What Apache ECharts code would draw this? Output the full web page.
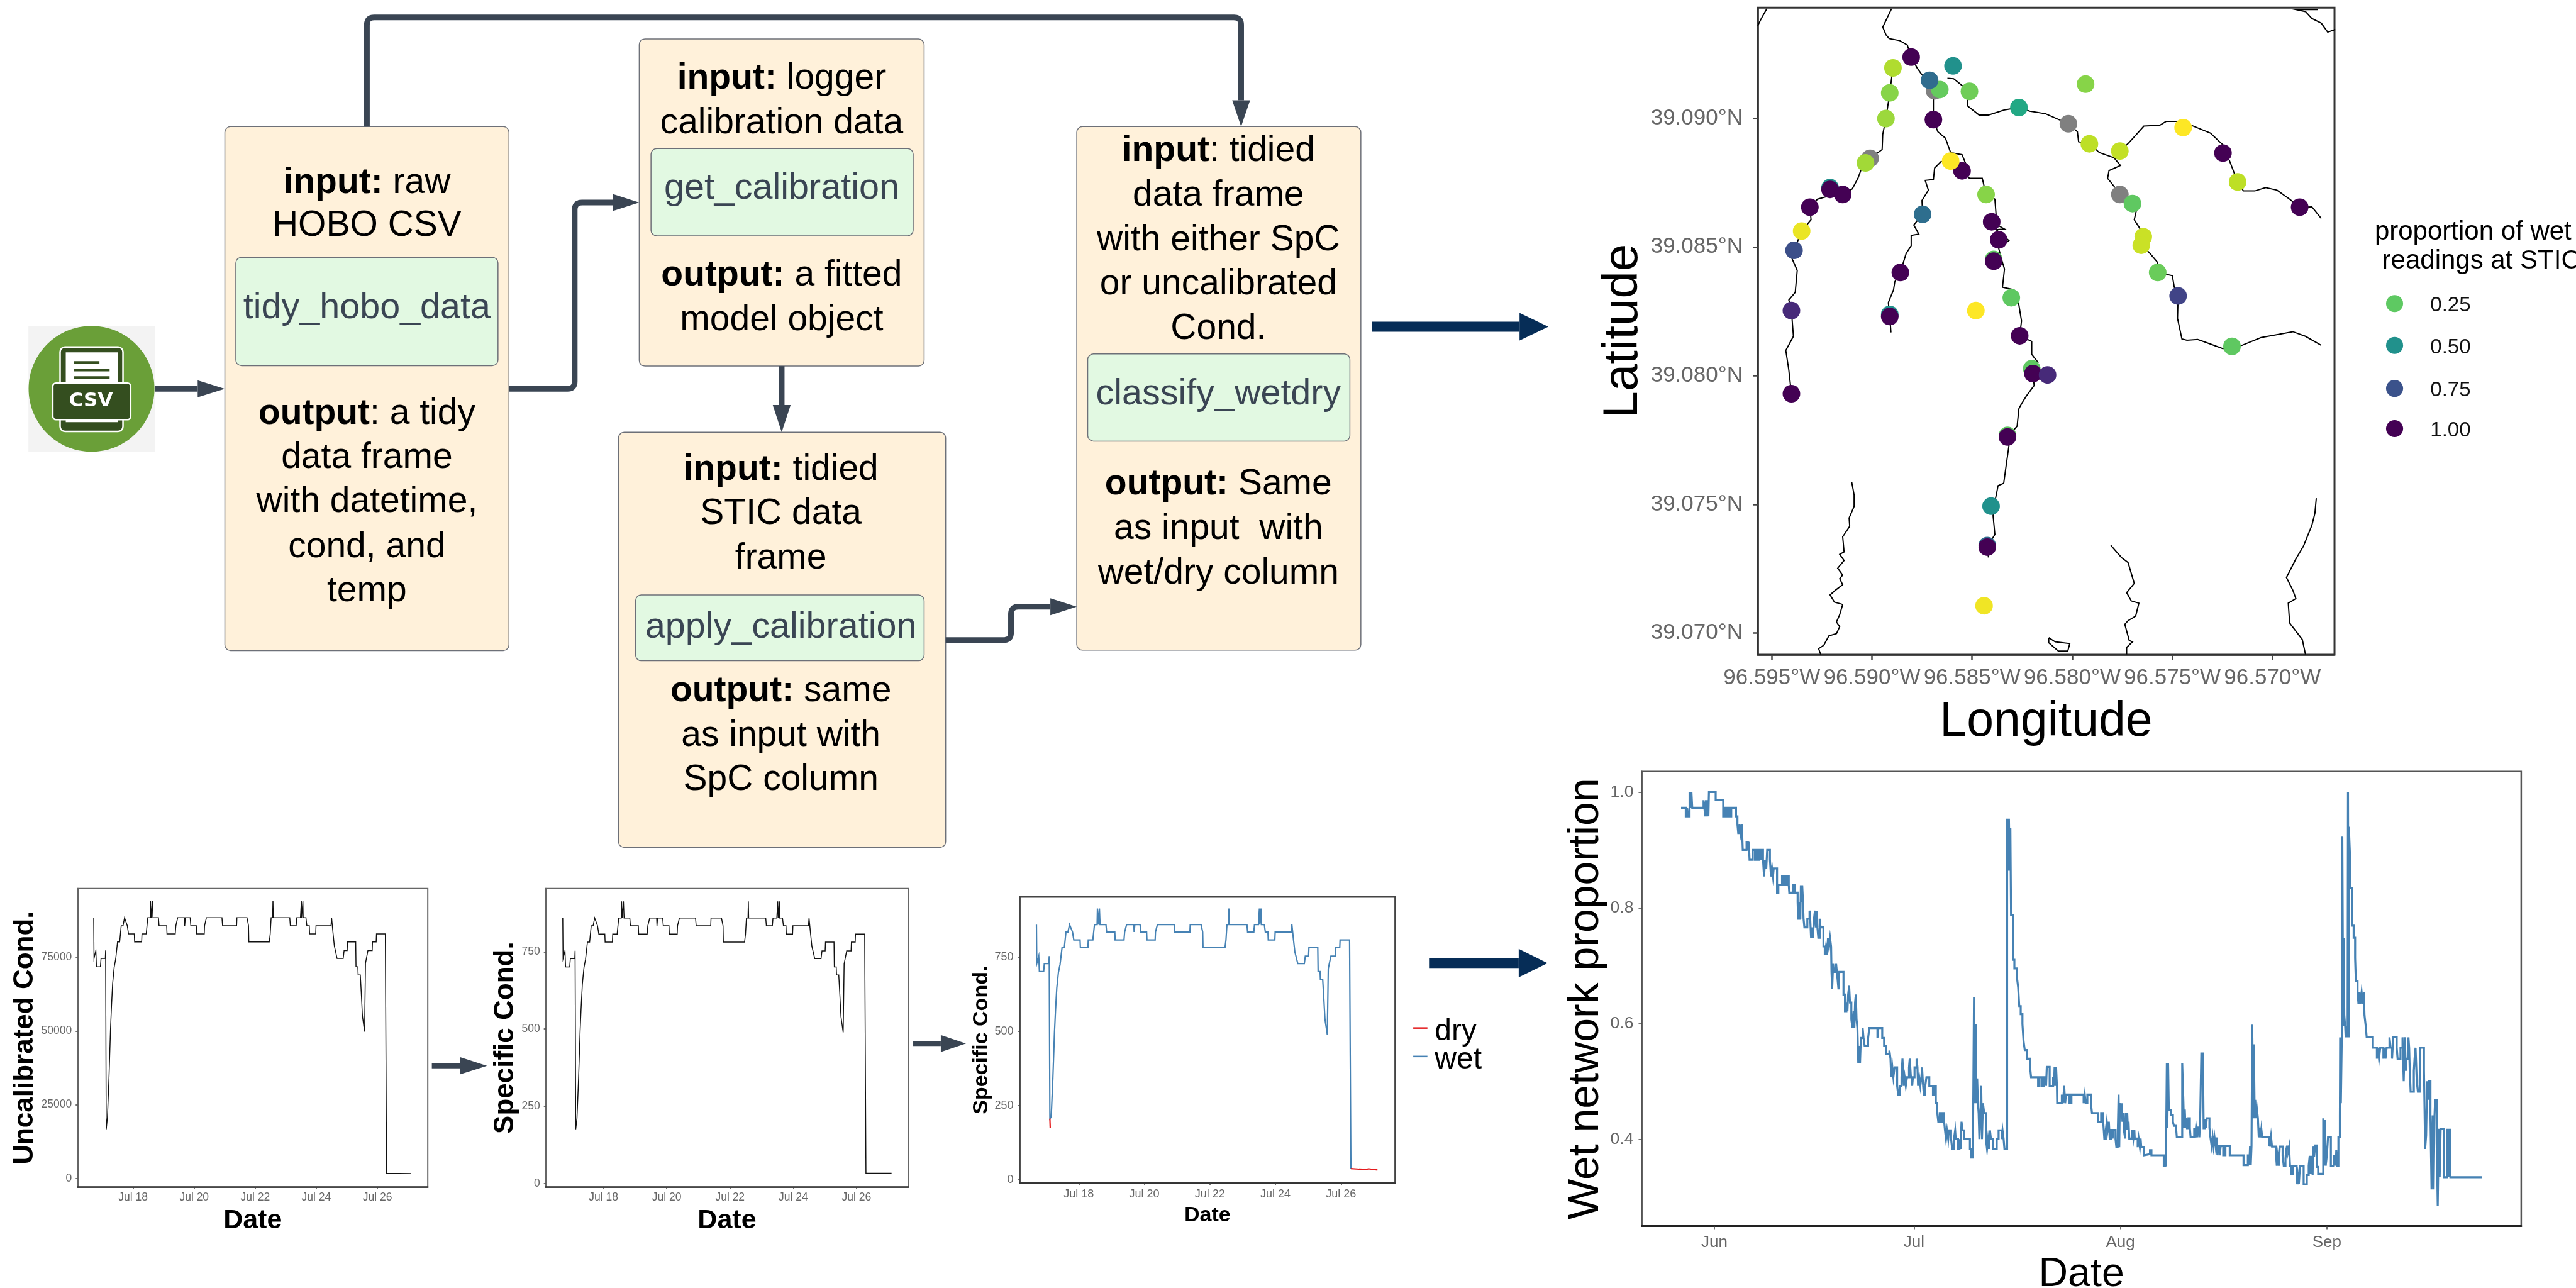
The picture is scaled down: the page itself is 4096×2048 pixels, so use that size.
<!DOCTYPE html>
<html>
<head>
<meta charset="utf-8">
<title>STIC workflow</title>
<script src="https://cdn.jsdelivr.net/npm/echarts@6/dist/echarts.min.js"></script>
<style>html,body{margin:0;padding:0;background:#fff}#c{width:4096px;height:2048px}</style>
</head>
<body>
<div id="c"></div>
<script>
const FONT = '"Liberation Sans", Arial, sans-serif';
const S = 4096 / 6347;

/* ---------- logger series: day of July, conductivity ---------- */
const stepDays = [16.71,16.72,16.75,16.78,16.80,16.93,16.95,17.09,17.10,17.12,
17.16,17.21,17.26,17.29,17.33,17.38,17.43,17.49,17.56,17.61,
17.67,17.72,17.75,17.81,17.85,18.04,18.05,18.28,18.29,18.43,
18.48,18.56,18.57,18.59,18.63,18.65,18.83,18.85,19.10,19.11,
19.38,19.40,19.46,19.68,19.69,19.71,19.87,19.89,20.07,20.08,
20.33,20.34,20.40,20.91,20.93,21.39,21.40,21.73,21.78,21.79,
22.46,22.49,22.52,22.57,22.58,22.59,23.13,23.15,23.34,23.36,
23.48,23.51,23.52,23.56,23.57,23.66,23.69,23.77,23.78,23.98,
23.99,24.48,24.50,24.55,24.59,24.68,24.88,24.91,25.01,25.02,
25.29,25.30,25.36,25.37,25.44,25.47,25.51,25.58,25.61,25.69,
25.83,25.84,25.96,25.97,26.26,26.28,26.30,27.11];
const uncalibratedCond = [88400,74600,74600,77300,71800,71800,74600,74600,77300,16700,
20800,34100,50500,57900,66100,71600,74400,80200,80200,85700,
85700,88400,88400,85700,82900,82900,80200,80200,82900,82900,
88400,88400,94000,88400,94000,88400,88400,85700,85700,82900,
82900,85700,88400,88400,85700,88400,88400,85700,85700,82900,
82900,85700,88400,88400,85700,85700,88400,88400,85700,80200,
80200,82900,88400,88400,94000,88400,88400,85700,85700,88400,
88400,94000,88400,94000,88400,88400,85700,85700,82900,82900,
85700,85700,88400,82900,78900,74600,74600,77300,77300,80200,
80200,71800,71800,69000,69000,63400,55100,49800,73000,77300,
77300,80200,80200,82900,82900,42300,1800,1700];
const specificCond = [859,728,728,753,701,701,728,728,753,175,
211,339,496,567,645,698,725,781,781,834,
834,859,859,834,807,807,781,781,807,807,
859,859,913,859,913,859,859,834,834,807,
807,834,859,859,834,859,859,834,834,807,
807,834,859,859,834,834,859,859,834,781,
781,807,859,859,913,859,859,834,834,859,
859,913,859,913,859,859,834,834,807,807,
834,834,859,807,768,728,728,753,753,781,
781,701,701,675,675,619,540,489,711,753,
753,781,781,807,807,417,33,33];
const wetCond = [859,728,728,753,701,701,728,728,753,206,
211,339,496,567,645,698,725,781,781,834,
834,859,859,834,807,807,781,781,807,807,
859,859,913,859,913,859,859,834,834,807,
807,834,859,859,834,859,859,834,834,807,
807,834,859,859,834,834,859,859,834,781,
781,807,859,859,913,859,859,834,834,859,
859,913,859,913,859,859,834,834,807,807,
834,834,859,807,768,728,728,753,753,781,
781,701,701,675,675,619,540,489,711,753,
753,781,781,807,807,417,38];
const dryLow = [[17.12,206],[17.13,175]];
const dryEnd = [[26.30,38],[26.55,36],[26.75,35],[26.85,37],[27.11,33]];
const julyTicks = [18,20,22,24,26];
const condTicks = [0,25000,50000,75000];
const spcTicks = [0,250,500,750];

/* ---------- wet network proportion: days since 1 June, share ---------- */
const wetProportion = [[-5.00,.973],[-4.29,.958],[-4.09,.973],[-3.92,.958],[-3.72,1],[-3.56,.973],[-3.44,1],[-3.32,.973],[-1.62,.986],[-1.50,.973],[-1.36,.958],[-1.26,.986],[-1.11,.958],[-.99,.986],[-.89,.958],[-.81,1],[.20,.986],[1.33,.958],[1.58,.973],[1.81,.958],[2.05,.973],[2.31,.958],[2.54,.973],[3.26,.958],[3.47,.944],[3.59,.929],[3.79,.944],[3.95,.929],[4.13,.944],[4.27,.900],[4.84,.914],[5.04,.900],[5.18,.914],[5.29,.883],[5.75,.900],[6.09,.883],[6.36,.900],[6.56,.883],[6.76,.900],[6.96,.883],[7.07,.900],[7.31,.883],[7.47,.854],[7.63,.883],[7.80,.868],[7.94,.900],[8.35,.883],[8.51,.854],[8.67,.868],[8.81,.854],[8.92,.868],[9.42,.826],[9.62,.839],[10.17,.854],[10.37,.839],[10.57,.854],[10.78,.839],[10.98,.854],[11.18,.839],[11.26,.826],[11.85,.839],[12.05,.826],[12.51,.810],[12.59,.781],[12.80,.810],[12.92,.781],[13.00,.839],[13.12,.810],[13.20,.839],[13.32,.810],[13.40,.781],[13.53,.766],[13.97,.781],[14.30,.795],[14.40,.781],[14.53,.748],[14.71,.766],[14.81,.748],[14.97,.781],[15.11,.795],[15.25,.766],[15.35,.795],[15.48,.766],[15.62,.748],[15.82,.781],[15.96,.766],[16.39,.733],[16.59,.718],[16.77,.733],[16.95,.718],[17.07,.748],[17.23,.733],[17.38,.748],[17.54,.733],[17.60,.689],[17.70,.659],[17.84,.703],[17.96,.689],[18.29,.703],[18.41,.689],[18.53,.674],[18.65,.659],[18.77,.689],
[19.40,.650],[19.62,.621],[19.84,.636],[19.99,.621],[20.10,.650],[20.25,.665],[20.38,.636],[20.58,.607],[20.75,.592],[20.92,.621],[21.03,.592],[21.14,.636],[21.25,.650],[21.36,.607],[21.49,.592],[21.62,.531],[21.75,.561],[21.88,.531],[22.01,.575],[22.28,.592],[22.41,.575],[22.58,.561],[23.10,.575],[23.28,.592],[24.50,.575],[24.63,.592],[25.22,.575],[25.50,.561],[25.80,.547],[26.30,.553],[26.46,.539],[26.57,.507],[26.74,.524],[26.89,.507],[27.07,.524],[27.46,.492],[27.61,.477],[27.83,.492],[28.11,.507],[28.26,.539],[28.44,.492],[28.59,.507],[28.76,.492],[28.94,.507],[29.24,.524],[29.35,.539],[29.53,.507],[29.72,.492],[29.83,.507],[30.07,.524],[30.38,.539],[30.51,.524],[30.60,.492],[30.77,.507],[30.94,.492],[31.10,.507],[31.20,.524],[31.36,.492],[31.47,.477],[31.68,.492],[31.86,.507],[32.29,.492],[32.84,.477],[33.06,.492],[33.27,.462],[33.49,.445],[33.64,.430],[33.86,.445],[34.08,.430],[34.30,.445],[34.52,.430],[34.65,.415],[34.80,.400],[34.95,.415],[35.13,.400],[35.23,.415],[35.56,.400],[35.73,.383],[35.99,.400],[36.17,.415],[36.26,.400],[36.61,.383],[36.82,.400],[36.98,.383],[37.13,.430],[37.30,.415],[37.52,.400],[38.39,.383],[38.61,.368],[38.87,.430],[39.00,.645],[39.18,.462],[39.26,.599],[39.39,.462],[39.48,.505],[39.59,.462],[39.70,.445],[39.81,.400],[39.96,.444],[40.09,.492],[40.20,.400],[40.35,.462],[40.53,.445],[40.79,.400],[40.96,.383],[41.11,.400],[41.27,.383],[41.40,.415],[41.55,.400],[41.88,.383],[42.42,.400],[42.70,.415],[43.18,.400],[43.29,.415],[43.45,.400],[43.58,.383],
[43.98,.954],[44.10,.864],[44.25,.954],[44.37,.864],[44.47,.938],[44.57,.787],[44.87,.710],[45.07,.695],[45.47,.678],[45.64,.662],[45.80,.630],[46.02,.616],[46.28,.599],[46.45,.569],[46.63,.554],[47.00,.539],[47.43,.524],[47.58,.507],[48.63,.492],[48.85,.507],[49.28,.492],[49.50,.507],[49.83,.492],[49.94,.525],[50.37,.492],[50.89,.507],[51.02,.492],[51.11,.525],[51.28,.492],[51.33,.525],[51.46,.492],[51.50,.462],[52.20,.477],[52.37,.462],[52.55,.492],[52.70,.462],[52.81,.477],[53.35,.462],[53.64,.477],[55.47,.462],[55.64,.477],[55.79,.462],[56.03,.477],[56.56,.462],[56.73,.445],[57.64,.430],[58.10,.445],[58.41,.430],[58.58,.401],[58.80,.416],[58.95,.430],[59.08,.416],[59.26,.430],[59.39,.401],[59.60,.416],[59.82,.401],[59.95,.416],[60.26,.400],[60.39,.386],[60.58,.401],[60.72,.477],[60.82,.386],[60.91,.462],[61.09,.445],[61.19,.462],[61.30,.430],[61.46,.445],[61.52,.416],[61.70,.401],[61.80,.445],[61.91,.416],[62.02,.445],[62.13,.416],[62.22,.430],[62.33,.401],[62.78,.416],[62.94,.401],[63.09,.416],[63.15,.401],[63.59,.386],[63.74,.401],[63.92,.386],[64.03,.401],[64.13,.386],[64.53,.372],[64.61,.374],[65.44,.381],[65.66,.372],[67.51,.353],[67.73,.372],[67.84,.353],[67.88,.419],[67.97,.531],[68.05,.419],[68.16,.531],[68.27,.450],[68.60,.442],[68.88,.430],[69.04,.423],[69.36,.419],[69.47,.403],[70.28,.531],[70.45,.468],[70.56,.419],[70.67,.451],[70.78,.419],[70.89,.436],[71.00,.419],[71.21,.436],[71.43,.419],[71.54,.403],[72.08,.419],[72.19,.403],[72.35,.420],[72.52,.403],[72.63,.420],[72.85,.403],[72.98,.436],[73.15,.548],[73.39,.546],[73.50,.419],[73.72,.434],[73.83,.419],[73.98,.436],[74.37,.420],[74.52,.403],[74.70,.388],[74.85,.403],[74.98,.388],[75.13,.403],[75.29,.388],[75.42,.403],[75.57,.372],[75.68,.388],[75.90,.372],[76.07,.388],[76.44,.372],[76.77,.388],[77.42,.372],[79.49,.355],[80.14,.372],[80.36,.355],[80.47,.388],[80.58,.355],[80.69,.388],[80.80,.598],[80.95,.436],[81.04,.564],[81.17,.436],[81.25,.468],[81.38,.436],[81.51,.451],[81.65,.436],[81.78,.403],[81.91,.420],[82.04,.403],[82.17,.417],[82.30,.403],[83.34,.388],
[83.40,.404],[83.46,.387],[83.62,.404],[83.77,.387],[84.38,.371],[84.49,.354],[84.64,.371],[84.81,.354],[84.92,.387],[85.36,.371],[85.53,.354],[85.79,.366],[85.90,.381],[86.01,.387],[86.23,.381],[86.34,.387],[86.47,.354],[86.67,.340],[86.88,.354],[87.47,.322],[87.65,.338],[87.80,.322],[87.97,.354],[88.52,.322],[89.00,.338],[89.28,.354],[89.43,.371],[89.56,.340],[89.72,.371],[89.87,.338],[89.93,.387],[90.09,.369],[90.26,.389],[90.48,.352],[90.70,.340],[91.46,.436],[91.57,.354],[91.72,.433],[91.83,.354],[92.00,.371],[92.18,.403],[92.61,.354],[93.05,.371],[93.35,.354],[93.42,.381],[93.53,.354],[93.74,.404],[93.96,.441],[94.00,.576],[94.11,.462],[94.25,.576],[94.33,.923],[94.46,.596],[94.55,.748],[94.62,.614],[94.75,.596],[94.83,.576],[94.99,.596],[95.12,.576],[95.18,1],[95.27,.576],[95.31,.940],[95.49,.888],[95.55,.834],[95.81,.769],[96.03,.748],[96.25,.713],[96.36,.673],[96.62,.654],[96.75,.634],[96.90,.654],[97.05,.634],[97.23,.654],[97.40,.634],[97.56,.654],[97.66,.614],[97.84,.596],[97.99,.576],[98.93,.558],[99.52,.539],[99.67,.558],[99.84,.539],[100.02,.558],[100.50,.539],[100.67,.558],[100.82,.539],[100.98,.558],[101.41,.576],[101.59,.558],[101.80,.539],[101.98,.576],[102.50,.558],[102.63,.539],[103.07,.558],[103.37,.576],[103.55,.500],[103.72,.576],[103.87,.518],[103.98,.539],[104.26,.576],[104.37,.558],[104.46,.518],[104.59,.482],[105.07,.518],[105.18,.539],[105.33,.558],[105.51,.500],[105.68,.482],[105.94,.500],[106.05,.558],[106.59,.521],[106.77,.383],[106.92,.406],[107.07,.500],[107.20,.468],[107.36,.500],[107.57,.436],[107.73,.313],[107.90,.441],[108.05,.313],[108.18,.441],[108.27,.468],[108.51,.392],[108.66,.285],[108.82,.418],[108.95,.334],[109.10,.418],[109.60,.334],[110.04,.418],[110.19,.334],[110.30,.418],[110.41,.334],[110.52,.418],[110.56,.334],[115.31,.334]];
const monthTicks = [0,30,61,92];
const monthNames = ['Jun','Jul','Aug','Sep'];
const shareTicks = [0.4,0.6,0.8,1.0];

/* ---------- map: lon, lat, proportion of wet readings ---------- */
const stations = [
[-96.58804,39.09238,1],[-96.58595,39.09204,.50],[-96.58895,39.09196,.12],[-96.58661,39.09112,.24],[-96.58712,39.09148,.65],
[-96.58513,39.09105,.22],[-96.57933,39.09133,.18],[-96.58911,39.09099,.18],[-96.5893,39.08999,.15],[-96.58693,39.08995,1],
[-96.58266,39.09042,.40],[-96.57914,39.08901,.10],[-96.57762,39.08873,.09],[-96.57446,39.08964,0],[-96.57247,39.08865,1],
[-96.57174,39.08753,.10],[-96.56864,39.08655,1],[-96.5855,39.08796,1],[-96.58607,39.08834,0],[-96.59032,39.08827,.14],
[-96.59209,39.08731,.50],[-96.59209,39.08724,1],[-96.59146,39.08704,1],[-96.5931,39.08655,1],[-96.59351,39.08562,.03],
[-96.59389,39.08487,.76],[-96.5843,39.08704,.18],[-96.58747,39.08627,.64],[-96.57699,39.08669,.25],[-96.57645,39.0854,.08],
[-96.57655,39.08507,.08],[-96.58402,39.08598,1],[-96.58367,39.08528,1],[-96.58392,39.08452,.25],[-96.58392,39.08445,1],
[-96.58858,39.08401,1],[-96.57573,39.08401,.23],[-96.57471,39.0831,.80],[-96.58304,39.08303,.25],[-96.59402,39.08253,.88],
[-96.58911,39.08238,.50],[-96.58911,39.0823,1],[-96.58481,39.08253,0],[-96.58262,39.08155,1],[-96.57202,39.08114,.25],
[-96.58202,39.08027,.25],[-96.58196,39.08008,1],[-96.58123,39.08003,.88],[-96.59402,39.0793,1],[-96.58323,39.07768,.25],
[-96.58323,39.07762,1],[-96.58405,39.07493,.50],[-96.58424,39.0734,.65],[-96.58424,39.07334,1],[-96.5844,39.07106,.02]];
const noDataStations = [[-96.58687,39.09107],[-96.58019,39.08979],[-96.59009,39.08845],[-96.57762,39.08704]];
const viridisReversed = ['#fde725','#bddf26','#7ad151','#44bf70','#22a884','#21918c','#2a788e','#355f8d','#414487','#482475','#440154'];
const legendProps = [0.25,0.50,0.75,1.00];
const legendColors = ['#5ec962','#21918c','#3b528b','#440154'];
const lonTicks = [-96.595,-96.590,-96.585,-96.580,-96.575,-96.570];
const latTicks = [39.070,39.075,39.080,39.085,39.090];

const streamCentral = [[-96.58902,39.09426],[-96.58924,39.0939],[-96.58946,39.09355],[-96.5893,39.09325],[-96.58914,39.0931],[-96.58861,39.09302],[-96.58823,39.09285],[-96.58804,39.09238],[-96.58775,39.09197],[-96.5875,39.09169],[-96.58712,39.09148],[-96.58693,39.09109],[-96.58693,39.08995],[-96.58671,39.08948],[-96.58633,39.08923],[-96.58607,39.08867],[-96.5855,39.08859],[-96.58528,39.08817],[-96.5855,39.08796],[-96.58513,39.08767],[-96.58449,39.08767],[-96.5843,39.08704],[-96.58386,39.08686],[-96.5838,39.08626],[-96.58402,39.08598],[-96.58338,39.0857],[-96.5838,39.08568],[-96.58316,39.08525],[-96.58367,39.08495],[-96.58354,39.08455],[-96.58338,39.08415],[-96.58348,39.08344],[-96.58291,39.08334],[-96.58266,39.08274],[-96.58253,39.08213],[-96.58262,39.08155],[-96.58202,39.08133],[-96.58202,39.08083],[-96.58171,39.08052],[-96.58196,39.08008],[-96.5819,39.07962],[-96.58228,39.07922],[-96.58253,39.07891],[-96.58266,39.07872],[-96.58275,39.07804],[-96.58323,39.07762],[-96.58316,39.07727],[-96.58329,39.07655],[-96.58342,39.07582],[-96.5837,39.07573],[-96.58386,39.0751],[-96.58395,39.07456],[-96.58386,39.07383],[-96.58424,39.07334],[-96.58418,39.07294]];
const streamCentralWest = [[-96.58607,39.08867],[-96.58607,39.08834],[-96.58655,39.08832],[-96.58687,39.08807],[-96.58693,39.08762],[-96.58734,39.08759],[-96.58718,39.08721],[-96.5875,39.08681],[-96.58747,39.08627],[-96.58791,39.08586],[-96.58766,39.0855],[-96.58804,39.08545],[-96.58804,39.08505],[-96.58829,39.08475],[-96.58845,39.08435],[-96.58858,39.08401],[-96.58886,39.08364],[-96.58892,39.08334],[-96.58918,39.08284],[-96.58911,39.08232],[-96.58905,39.08168]];
const streamWest = [[-96.58895,39.09196],[-96.58911,39.09099],[-96.5893,39.08999],[-96.58946,39.08938],[-96.58949,39.08879],[-96.59009,39.08845],[-96.59051,39.08807],[-96.5907,39.08767],[-96.59098,39.08726],[-96.59146,39.08704],[-96.59225,39.08696],[-96.59272,39.08686],[-96.5931,39.08655],[-96.59304,39.08606],[-96.59351,39.08562],[-96.59389,39.08487],[-96.59399,39.08455],[-96.59373,39.08409],[-96.59383,39.08324],[-96.59415,39.08294],[-96.59402,39.08253],[-96.59392,39.08153],[-96.5943,39.08098],[-96.59415,39.08022],[-96.59402,39.0793]];
const streamEast = [[-96.58623,39.09156],[-96.58592,39.09154],[-96.58544,39.09124],[-96.58522,39.09099],[-96.58522,39.09048],[-96.58465,39.09013],[-96.58418,39.09013],[-96.58338,39.09033],[-96.58266,39.09042],[-96.58212,39.09028],[-96.58133,39.09018],[-96.58019,39.08979],[-96.57974,39.08948],[-96.57968,39.08909],[-96.57914,39.08901],[-96.57864,39.08867],[-96.57791,39.08847],[-96.57759,39.08817],[-96.57816,39.08797],[-96.57823,39.08767],[-96.57791,39.08736],[-96.57762,39.08704],[-96.57699,39.08669],[-96.5768,39.08641],[-96.5769,39.08606],[-96.57664,39.08575],[-96.57645,39.0854],[-96.57655,39.08507],[-96.57617,39.0848],[-96.57573,39.0844],[-96.57573,39.08401],[-96.575,39.08389],[-96.5749,39.08344],[-96.57471,39.0831],[-96.57474,39.08223],[-96.57452,39.08143],[-96.57427,39.08138],[-96.57373,39.08141],[-96.5731,39.08123],[-96.57247,39.08105],[-96.57202,39.08114],[-96.57152,39.08118],[-96.57057,39.08148],[-96.56898,39.08171],[-96.56835,39.08153],[-96.56756,39.08118]];
const streamNorthEast = [[-96.57762,39.08873],[-96.57721,39.08902],[-96.5769,39.08928],[-96.57642,39.0897],[-96.57563,39.08973],[-96.57531,39.08988],[-96.57452,39.08988],[-96.57389,39.08968],[-96.5731,39.08943],[-96.57247,39.08897],[-96.57247,39.08865],[-96.57215,39.08837],[-96.57174,39.08753],[-96.57145,39.08718],[-96.57088,39.08718],[-96.57034,39.08731],[-96.56977,39.08721],[-96.56914,39.08686],[-96.56864,39.08655],[-96.56803,39.08656],[-96.56756,39.08611]];
const streamTopLeft = [[-96.59525,39.09426],[-96.59551,39.0939],[-96.5957,39.0936]];
const streamTopRight = [[-96.56772,39.09423],[-96.56883,39.09423],[-96.56835,39.09415],[-96.56803,39.09388],[-96.56756,39.0937],[-96.56724,39.09335],[-96.56686,39.09345]];
const streamSouthA = [[-96.59101,39.07587],[-96.59089,39.07537],[-96.59089,39.07492],[-96.59114,39.07447],[-96.59111,39.07415],[-96.59146,39.07374],[-96.59139,39.07315],[-96.59161,39.07306],[-96.59139,39.07282],[-96.59171,39.07252],[-96.59146,39.07225],[-96.59161,39.07211],[-96.59146,39.07188],[-96.59183,39.07166],[-96.59209,39.07148],[-96.59187,39.0712],[-96.59146,39.07111],[-96.59161,39.07071],[-96.59177,39.07043],[-96.59161,39.07025],[-96.59177,39.06998],[-96.59215,39.06989],[-96.5924,39.06953],[-96.59266,39.06939],[-96.59256,39.06917]];
const streamSouthB = [[-96.57807,39.07341],[-96.57753,39.07293],[-96.57721,39.07274],[-96.5769,39.07193],[-96.57728,39.07157],[-96.57705,39.07125],[-96.57667,39.07116],[-96.57683,39.07066],[-96.57721,39.07048],[-96.57737,39.07034],[-96.57715,39.06971],[-96.57699,39.06966],[-96.57728,39.06944],[-96.57728,39.06917]];
const streamSouthC = [[-96.56781,39.07524],[-96.56788,39.07465],[-96.56803,39.07419],[-96.56845,39.07338],[-96.56883,39.07288],[-96.5693,39.07216],[-96.56898,39.07166],[-96.56883,39.07134],[-96.56921,39.07116],[-96.56914,39.07039],[-96.56851,39.06975],[-96.56835,39.06917]];
const pondLoop = [[-96.58117,39.06982],[-96.58117,39.06962],[-96.58069,39.0693],[-96.58022,39.0693],[-96.58012,39.06959],[-96.58085,39.06966],[-96.58117,39.06982]];
const allStreams = [streamCentral,streamCentralWest,streamWest,streamEast,streamNorthEast,streamTopLeft,streamTopRight,streamSouthA,streamSouthB,streamSouthC,pondLoop];

/* ---------- flow diagram text ---------- */
const boxes = [
 {x0:554,x1:1254,y0:312,y1:1603,cx:904,gx0:581,gx1:1227,gy0:634,gy1:901,fn:'tidy_hobo_data',fny:756,
  lines:[[445,'input:',' raw'],[551,'','HOBO CSV'],[1014,'output',': a tidy'],[1123,'','data frame'],[1231,'','with datetime,'],[1342,'','cond, and'],[1451,'','temp']]},
 {x0:1575,x1:2277,y0:96,y1:902,cx:1926,gx0:1604,gx1:2250,gy0:366,gy1:581,fn:'get_calibration',fny:462,
  lines:[[188,'input:',' logger'],[298,'','calibration data'],[673,'output:',' a fitted'],[783,'','model object']]},
 {x0:1524,x1:2330,y0:1065,y1:2088,cx:1924,gx0:1566,gx1:2277,gy0:1466,gy1:1628,fn:'apply_calibration',fny:1543,
  lines:[[1152,'input:',' tidied'],[1261,'','STIC data'],[1371,'','frame'],[1698,'output:',' same'],[1807,'','as input with'],[1916,'','SpC column']]},
 {x0:2653,x1:3353,y0:312,y1:1602,cx:3002,gx0:2680,gx1:3326,gy0:872,gy1:1087,fn:'classify_wetdry',fny:969,
  lines:[[367,'input',': tidied'],[477,'','data frame'],[587,'','with either SpC'],[695,'','or uncalibrated'],[805,'','Cond.'],[1187,'output:',' Same'],[1297,'','as input  with'],[1407,'','wet/dry column']]}
];
const legendTitle = ['proportion of wet',' readings at STIC'];
const classNames = ['dry','wet'];

/* ---------- helpers ---------- */
const P = v => v * S;
const gfx = [];
function rounded(pts, r){
  const out=[pts[0]];
  for(let i=1;i<pts.length-1;i++){
    const a=pts[i-1],b=pts[i],c=pts[i+1];
    const d1=Math.hypot(a[0]-b[0],a[1]-b[1]),d2=Math.hypot(c[0]-b[0],c[1]-b[1]);
    const rr=Math.min(r,d1/2,d2/2);
    const p1=[b[0]+(a[0]-b[0])*rr/d1,b[1]+(a[1]-b[1])*rr/d1];
    const p2=[b[0]+(c[0]-b[0])*rr/d2,b[1]+(c[1]-b[1])*rr/d2];
    for(let k=0;k<=8;k++){const t=k/8,u=1-t;out.push([u*u*p1[0]+2*u*t*b[0]+t*t*p2[0],u*u*p1[1]+2*u*t*b[1]+t*t*p2[1]]);}
  }
  out.push(pts[pts.length-1]);
  return out;
}
function arrow(pts,color,w,head,half){
  const n=pts.length,a=pts[n-2],b=pts[n-1];
  const d=Math.hypot(b[0]-a[0],b[1]-a[1]),ux=(b[0]-a[0])/d,uy=(b[1]-a[1])/d;
  const base=[b[0]-ux*head,b[1]-uy*head];
  const line=rounded(pts.slice(0,n-1).concat([base]),18);
  gfx.push({type:'polyline',silent:true,z:5,shape:{points:line.map(p=>[P(p[0]),P(p[1])])},style:{stroke:color,lineWidth:P(w),fill:null,lineJoin:'round'}});
  gfx.push({type:'polygon',silent:true,z:6,shape:{points:[[b[0],b[1]],[base[0]-uy*half,base[1]+ux*half],[base[0]+uy*half,base[1]-ux*half]].map(p=>[P(p[0]),P(p[1])])},style:{fill:color}});
}
function text(x,y,str,size,opt){
  gfx.push({type:'text',silent:true,z:8,x:P(x),y:P(y),style:Object.assign({text:str,fontFamily:FONT,fontSize:size,fill:'#000',align:'center',verticalAlign:'middle'},opt||{})});
}
function rect(x0,y0,x1,y1,fill,stroke,r,z,lw){
  gfx.push({type:'rect',silent:true,z:z||3,shape:{x:P(x0),y:P(y0),width:P(x1-x0),height:P(y1-y0),r:P(r||0)},style:{fill:fill,stroke:stroke||null,lineWidth:lw||1.5}});
}
const DARK='#3a4553',NAVY='#062d57';

/* boxes */
boxes.forEach(b=>{
  rect(b.x0,b.y0,b.x1,b.y1,'#fff1da','#6d7078',14,3);
  rect(b.gx0,b.gy0,b.gx1,b.gy1,'#e2f9e2','#6d7078',14,4);
  text(b.cx,b.fny+3,b.fn,57.5,{fill:DARK});
  b.lines.forEach(l=>{
    const tag=(l[1]?'{b|'+l[1]+'}':'')+'{r|'+l[2]+'}';
    text(b.cx,l[0]+6,tag,57,{rich:{b:{fontFamily:FONT,fontSize:57,fontWeight:'bold',fill:'#000'},r:{fontFamily:FONT,fontSize:57,fill:'#000'}}});
  });
});

/* csv icon */
rect(70,803,382,1114,'#f3f3f3',null,0,2);
gfx.push({type:'ellipse',silent:true,z:3,shape:{cx:P(225.5),cy:P(958),rx:P(155),ry:P(155)},style:{fill:'#6a9f38'}});
rect(148,855,303,1063,'#344e1f','#ffffff',12,4,2.5);
rect(162,868,290,1040,'#ffffff',null,0,5);
[893,912,930].forEach((y,i)=>rect(182,y-3,i==0?245:270,y+3,'#344e1f',null,0,6));
rect(130,944,322,1034,'#344e1f','#ffffff',8,6,2.5);
text(224,988,'CSV',31,{fill:'#fff',fontWeight:'bold',fontFamily:'"DejaVu Sans", sans-serif'});

/* arrows */
arrow([[382,958],[554,958]],DARK,14,67,21);
arrow([[904,312],[904,43],[3058,43],[3058,312]],DARK,14,65,22);
arrow([[1254,958],[1416,958],[1416,499],[1575,499]],DARK,14,65,21);
arrow([[1926,902],[1926,1065]],DARK,14,67,22);
arrow([[2330,1577],[2491,1577],[2491,1495],[2653,1495]],DARK,14,65,21);
arrow([[3380,805],[3815,805]],NAVY,25,71,34);
arrow([[3521,2373],[3813,2373]],NAVY,24,71,35);
arrow([[1064,2626],[1200,2626]],DARK,13,66,21);
arrow([[2250,2571],[2380,2571]],DARK,13,62,21);

/* map legend */
text(5851,572,legendTitle[0],42,{align:'left'});
text(5851,643,legendTitle[1],42,{align:'left'});
[748,851,957,1056].forEach((y,i)=>{
  gfx.push({type:'circle',silent:true,z:8,shape:{cx:P(5900),cy:P(y),r:P(21)},style:{fill:legendColors[i]}});
  text(5988,y+5,legendProps[i].toFixed(2),33,{align:'left',fill:'#111'});
});

/* class legend */
[[2533,'#e41a1c'],[2603,'#4682b4']].forEach((d,i)=>{
  gfx.push({type:'line',silent:true,z:8,shape:{x1:P(3482),y1:P(d[0]),x2:P(3517),y2:P(d[0])},style:{stroke:d[1],lineWidth:2.5}});
  text(3535,d[0]+9,classNames[i],48,{align:'left'});
});

/* ---------- axes ---------- */
const gridAt = (l,r,t,b,color,bw) => ({left:P(l),width:P(r-l),top:P(t),height:P(b-t),show:true,borderColor:color||'#555',borderWidth:bw||2,backgroundColor:'#fff',containLabel:false,outerBoundsMode:'none'});
const grids = [
  gridAt(4331,5752,19,1613,'#333',3),
  gridAt(4045,6212,1901,3021,'#555',2.5),
  gridAt(191,1054,2189,2925,'#666',2),
  gridAt(1344.5,2238,2189,2925,'#666',2),
  gridAt(2512.5,3437.5,2210,2915,'#444',2.5)
];
function axis(kind,gi,min,max,ticks,fmt,o){
  const line={show:true,lineStyle:{color:o.lc||'#333',width:o.lw||2.5}};
  const a={type:'value',gridIndex:gi,min:min,max:max,scale:true,name:o.name,nameLocation:'middle',nameGap:o.gap,
    nameTextStyle:{fontFamily:FONT,fontSize:o.nameSize,fontWeight:o.bold?'bold':'normal',color:'#000'},
    splitLine:{show:false},axisLine:Object.assign(line,{onZero:false}),
    axisTick:{show:true,length:o.tick||4,customValues:ticks,lineStyle:{color:'#444',width:o.tw||1.5}},
    axisLabel:{show:true,customValues:ticks,formatter:fmt,fontFamily:FONT,fontSize:o.size,color:o.color||'#666',margin:o.margin,hideOverlap:false}};
  if(kind==='y') a.nameRotate=90;
  return a;
}
const lonFmt=v=>Math.abs(v).toFixed(3)+'°W', latFmt=v=>v.toFixed(3)+'°N';
const julFmt=v=>'Jul '+Math.round(v);
const xAxes=[
  axis('x',0,-96.5957,-96.5669,lonTicks,lonFmt,{name:'Longitude',gap:69,nameSize:77,size:35,margin:20,tick:8,tw:2.5}),
  axis('x',1,-10.91,121.2,monthTicks,v=>monthNames[monthTicks.indexOf(Math.round(v))],{name:'Date',gap:45,nameSize:64.5,size:26,margin:13,tick:5,lc:'#222',lw:3.2}),
  axis('x',2,16.18,27.65,julyTicks,julFmt,{name:'Date',bold:true,gap:32,nameSize:43,size:17.5,margin:8,tick:3}),
  axis('x',3,16.17,27.64,julyTicks,julFmt,{name:'Date',bold:true,gap:32,nameSize:43,size:17.5,margin:8,tick:3}),
  axis('x',4,16.2,27.65,julyTicks,julFmt,{name:'Date',bold:true,gap:34,nameSize:34,size:18,margin:9,tick:3})
];
const yAxes=[
  axis('y',0,39.06916,39.0943,latTicks,latFmt,{name:'Latitude',gap:175,nameSize:78,size:35,margin:24,tick:8,tw:2.5}),
  axis('y',1,0.2496,1.0355,shareTicks,v=>v.toFixed(1),{name:'Wet network proportion',gap:51,nameSize:68,size:26.5,margin:13,tick:5,lc:'#555',lw:2.5}),
  axis('y',2,-2930,98350,condTicks,v=>String(v),{name:'Uncalibrated Cond.',bold:true,gap:61,nameSize:44,size:17.5,margin:9,tick:3,lc:'#666',lw:2}),
  axis('y',3,-12,955,spcTicks,v=>String(v),{name:'Specific Cond.',bold:true,gap:40,nameSize:44,size:17.5,margin:9,tick:3,lc:'#666',lw:2}),
  axis('y',4,-11,952,spcTicks,v=>String(v),{name:'Specific Cond.',bold:true,gap:44,nameSize:34,size:18,margin:10,tick:3,lc:'#444',lw:2.5})
];

/* ---------- series ---------- */
const zip=(xs,ys)=>ys.map((y,i)=>[xs[i],y]);
const lineSeries=(gi,data,color,width,extra)=>Object.assign({type:'line',xAxisIndex:gi,yAxisIndex:gi,data:data,showSymbol:false,symbol:'none',smooth:false,silent:true,
  lineStyle:{color:color,width:width,join:'miter'},z:3},extra||{});
const series=[];
allStreams.forEach(s=>series.push(lineSeries(0,s,'#000',2,{})));
series.push({type:'scatter',name:'no data',xAxisIndex:0,yAxisIndex:0,data:noDataStations,symbolSize:28,silent:true,itemStyle:{color:'#808080',opacity:1},z:4});
series.push({type:'scatter',name:'stations',xAxisIndex:0,yAxisIndex:0,data:stations,symbolSize:28,silent:true,itemStyle:{opacity:1},z:5});
const stationSeriesIndex=series.length-1;
series.push(lineSeries(1,wetProportion,'#4682b4',3.2,{step:'end'}));
series.push(lineSeries(2,zip(stepDays,uncalibratedCond),'#111',1.5));
series.push(lineSeries(3,zip(stepDays,specificCond),'#111',1.5));
series.push(lineSeries(4,zip(stepDays,wetCond),'#4682b4',2.2));
series.push(lineSeries(4,dryLow,'#e41a1c',2.2));
series.push(lineSeries(4,dryEnd,'#e41a1c',2.2));

const chart=echarts.init(document.getElementById('c'),null,{renderer:'canvas',width:4096,height:2048});
chart.setOption({
  animation:false,
  backgroundColor:'#ffffff',
  textStyle:{fontFamily:FONT},
  grid:grids,xAxis:xAxes,yAxis:yAxes,
  visualMap:{show:false,type:'continuous',seriesIndex:stationSeriesIndex,dimension:2,min:0,max:1,inRange:{color:viridisReversed}},
  series:series,
  graphic:{elements:gfx}
});
</script>
</body>
</html>
